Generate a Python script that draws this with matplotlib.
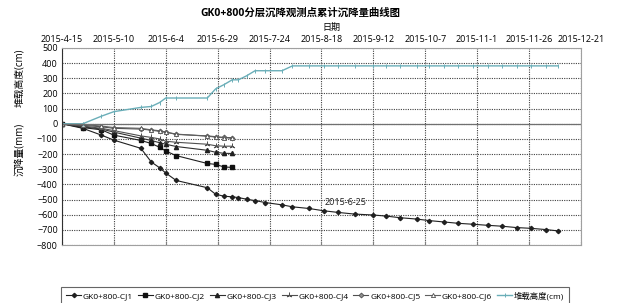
import pandas as pd
import matplotlib
matplotlib.use('Agg')
import matplotlib.pyplot as plt
import matplotlib.dates as mdates
from matplotlib.ticker import FuncFormatter, MultipleLocator

plt.rcParams['font.family'] = ['Open Sans', 'Noto Sans CJK SC', 'DejaVu Sans']

start = pd.Timestamp('2015-04-15')

# days after 2015-4-15
days_early = [0, 10, 19, 25, 38, 43, 47, 50, 55, 70, 74, 78, 82]
days_mid = [85, 89, 93, 98, 106, 111, 119]
days_late = [126, 133, 141, 150, 156, 163, 171, 177, 184, 191, 198, 205, 212, 219, 226, 233, 239]

cj1 = [0, -30, -75, -108, -162, -252, -290, -325, -374, -422, -465, -478, -482,
       -487, -498, -507, -520, -535, -548, -559,
       -574, -585, -596, -602, -609, -620, -629, -639, -648, -657, -663, -670, -676, -685, -690, -698, -707]
cj2 = [0, -25, -40, -75, -110, -130, -155, -180, -210, -262, -268, -285, -288]
cj3 = [0, -20, -35, -55, -95, -110, -125, -135, -150, -175, -188, -195, -196]
cj4 = [0, -15, -30, -45, -80, -90, -100, -115, -122, -135, -145, -148, -148]
cj5 = [0, -10, -20, -30, -35, -42, -50, -55, -70, -80, -85, -90, -92]
cj6 = [0, -5, -15, -25, -30, -40, -46, -55, -68, -82, -88, -92, -95]
load = [0, 0, 50, 80, 108, 114, 140, 170, 170, 170, 230, 258, 290,
        290, 317, 350, 350, 350, 382, 382,
        382, 382, 382, 382, 382, 382, 382, 382, 382, 382, 382, 382, 382, 382, 382, 382, 382]

names = ['GK0+800-CJ1', 'GK0+800-CJ2', 'GK0+800-CJ3', 'GK0+800-CJ4',
         'GK0+800-CJ5', 'GK0+800-CJ6', '堆载高度(cm)']

all_days = days_early + days_mid + days_late
d_all = start + pd.to_timedelta(all_days, unit='D')
d_early = start + pd.to_timedelta(days_early, unit='D')

fig = plt.figure(figsize=(6.23, 3.03), dpi=100)
ax = fig.add_axes([0.0995, 0.1914, 0.833, 0.6502])

styles = [
    dict(color='#202020', marker='D', ms=2.2, mfc='#202020', mec='#202020'),
    dict(color='#202020', marker='s', ms=3, mfc='#101010', mec='#101010'),
    dict(color='#303030', marker='^', ms=3, mfc='#202020', mec='#202020'),
    dict(color='#505050', marker=(3, 2, 0), ms=4, mew=0.7),
    dict(color='#505050', marker='D', ms=2.5, mfc='#909090', mec='#505050', mew=0.6),
    dict(color='#606060', marker='^', ms=3, mfc='white', mec='#505050', mew=0.6),
]
series = [cj1, cj2, cj3, cj4, cj5, cj6]
handles = []
for i, s in enumerate(series):
    xs = d_all if len(s) == len(d_all) else d_early
    h, = ax.plot(xs, s, lw=0.8, label=names[i], **styles[i])
    handles.append(h)
h, = ax.plot(d_all, load, color='#6aaeb8', lw=1.0, marker='|', ms=3, mew=0.7, label=names[6])
handles.append(h)

ax.annotate('2015-6-25', xy=(d_all[20], cj1[20]), xytext=(1, 3), textcoords='offset points',
            fontsize=6.5, ha='left', va='bottom', color='#202020')

xmin = start
xmax = start + pd.Timedelta(days=250)
ax.set_xlim(xmin, xmax)
ax.set_ylim(-800, 500)
ticks = [start + pd.Timedelta(days=25 * k) for k in range(11)]
ax.set_xticks(ticks)
ax.xaxis.set_major_formatter(FuncFormatter(
    lambda v, p: '{0.year}-{0.month}-{0.day}'.format(mdates.num2date(v))))
ax.yaxis.set_major_locator(MultipleLocator(100))
ax.tick_params(axis='x', which='both', top=True, labeltop=True, bottom=True, labelbottom=False,
               direction='in', length=3, labelsize=6.5, pad=3, color='#808080')
ax.tick_params(axis='x', top=False)
ax.tick_params(axis='y', length=0, labelsize=6.5, pad=3)
ax.set_xlabel('日期', fontsize=6.5)
ax.xaxis.set_label_position('top')
ax.xaxis.set_label_coords(0.52, 1.09)

ax.grid(True, ls=(0, (1, 1.1)), color='#404040', lw=0.8)
ax.axhline(0, color='#707070', lw=0.9)
for side in ['top', 'right', 'bottom']:
    ax.spines[side].set_color('#a0a0a0')
    ax.spines[side].set_linewidth(0.8)
ax.spines['left'].set_color('#303030')
ax.spines['left'].set_linewidth(0.8)

fig.text(0.482, 0.955, 'GK0+800分层沉降观测点累计沉降量曲线图', ha='center', va='center',
         fontsize=7.5, fontweight='bold')
fig.text(0.032, 0.743, '堆载高度(cm)', rotation=90, ha='center', va='center', fontsize=7)
fig.text(0.032, 0.508, '沉降量(mm)', rotation=90, ha='center', va='center', fontsize=7)

leg = fig.legend(handles=handles, loc='upper left', bbox_to_anchor=(0.0915, 0.068), ncol=7,
                 fontsize=6, frameon=True, fancybox=False, edgecolor='#404040',
                 handlelength=1.8, handletextpad=0.2, columnspacing=0.6, borderpad=0.6)
leg.get_frame().set_linewidth(0.8)

fig.savefig('out.png', dpi=100)
